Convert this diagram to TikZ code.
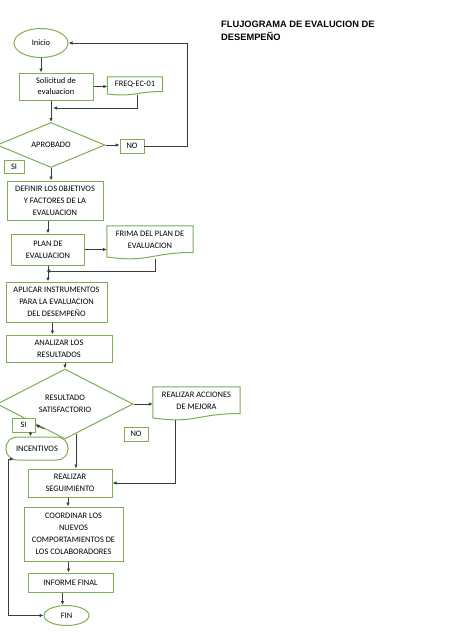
\documentclass[tikz,border=0pt]{standalone}
\usepackage{fontspec}
\setmainfont{Carlito}
\newfontfamily\titlefont{Liberation Sans}
\usetikzlibrary{shapes.geometric,arrows.meta,calc}
\definecolor{boxgreen}{RGB}{125,175,80}
\definecolor{lineg}{RGB}{60,60,60}
\newcommand{\docpath}[1]{%
  \draw[boxline] (#1.north west) -- (#1.north east)
   -- ($(#1.north east)!0.8!(#1.south east)$)
   .. controls ($(#1.north)!0.8!(#1.south)$) and ($(#1.north)!1.11!(#1.south)$)
   .. ($(#1.north west)!0.934!(#1.south west)$) -- cycle;}
\begin{document}
\begin{tikzpicture}[x=1pt,y=-1pt,
  boxline/.style={draw=boxgreen,line width=1pt,fill=white},
  txt/.style={font=\fontsize{8.4}{12}\selectfont,align=center,inner sep=0pt},
  box/.style={rectangle,boxline,txt},
  ell/.style={ellipse,boxline,txt},
  dia/.style={diamond,boxline,txt},
  doc/.style={rectangle,draw=none,txt},
  tag/.style={rectangle,draw=boxgreen,line width=0.8pt,fill=white,txt,minimum width=24pt,minimum height=14pt},
  arr/.style={draw=lineg,line width=0.8pt,-{Latex[length=4pt,width=3.5pt]}}]
\useasboundingbox[fill=white] (0,0) rectangle (474,632);

% title
\node[anchor=north west,align=left,inner sep=0pt,font=\titlefont\bfseries\fontsize{9.3}{12.5}\selectfont] (title) at (221,21) {FLUJOGRAMA DE EVALUCION DE\\DESEMPEÑO};

% nodes
\node[ell,minimum width=54pt,minimum height=29pt] (inicio) at (41,43) {Inicio};
\node[box,minimum width=74pt,minimum height=27pt,font=\fontsize{8.4}{11}\selectfont] (sol) at (56,86.5) {Solicitud de\\evaluacion};
\node[doc,minimum width=55pt,minimum height=18pt] (freq) at (135,86) {};
\docpath{freq}
\node[txt] (freqt) at (135,84) {FREQ-EC-01};
\node[dia,minimum width=108pt,minimum height=45pt] (apro) at (51,145) {APROBADO};
\node[tag] (no1) at (132,146) {NO};
\node[tag,minimum width=20pt,minimum height=13pt] (si1) at (14,167) {SI};
\node[box,minimum width=96pt,minimum height=39pt] (def) at (55,200.5) {DEFINIR LOS 0BJETIVOS\\Y FACTORES DE LA\\EVALUACION};
\node[box,minimum width=73pt,minimum height=31pt] (plan) at (48,249.5) {PLAN DE\\EVALUACION};
\node[doc,minimum width=86pt,minimum height=33pt] (frima) at (150,242.5) {};
\docpath{frima}
\node[txt] (frimat) at (150,240) {FRIMA DEL PLAN DE\\EVALUACION};
\node[box,minimum width=101pt,minimum height=40pt] (apl) at (56.5,302) {APLICAR INSTRUMENTOS\\PARA LA EVALUACION\\DEL DESEMPEÑO};
\node[box,minimum width=106pt,minimum height=27pt] (ana) at (59,348.5) {ANALIZAR LOS\\RESULTADOS};
\node[dia,minimum width=136pt,minimum height=54pt] (res) at (65,404) {RESULTADO\\SATISFACTORIO};
\node[doc,minimum width=87pt,minimum height=33pt] (acc) at (196.5,403.5) {};
\docpath{acc}
\node[txt] (acct) at (196.5,401) {REALIZAR ACCIONES\\DE MEJORA};
\node[tag] (no2) at (136,434) {NO};
\node[tag,minimum width=23pt] (si2) at (23.5,425) {SI};
\node[rectangle,rounded corners=11pt,boxline,txt,minimum width=62pt,minimum height=23pt] (inc) at (37,448.5) {INCENTIVOS};
\node[box,minimum width=84pt,minimum height=28pt] (seg) at (70,483) {REALIZAR\\SEGUIMIENTO};
\node[box,minimum width=99pt,minimum height=54pt] (coo) at (73.5,534) {COORDINAR LOS\\NUEVOS\\COMPORTAMIENTOS DE\\LOS COLABORADORES};
\node[box,minimum width=85pt,minimum height=19pt] (inf) at (70.5,582.5) {INFORME FINAL};
\node[ell,minimum width=45pt,minimum height=20pt] (fin) at (66.5,615.5) {FIN};

% coordinates
\coordinate (j1) at (53,108);
\coordinate (r1) at (187,43);
\coordinate (j2) at (46,271);
\coordinate (d1) at ($(res.south)!0.16!(res.east)$);
\coordinate (d2) at ($(res.west)!0.7!(res.south)$);
\coordinate (l1) at (8,459);
\coordinate (incin) at (14,459);

% connectors
\draw[arr] (inicio.south) -- (inicio.south |- sol.north);
\draw[arr] (sol.east) -- (freq.west |- sol.east);
\draw[arr] ([xshift=2pt]freq.south) |- (j1);
\draw[arr] (apro.north |- sol.south) -- (apro.north);
\draw[arr] (apro.east) -- (no1.west |- apro.east);
\draw[arr] (no1.east) -| (r1) -- (inicio.east);
\draw[arr] (apro.south) -- (apro.south |- def.north);
\draw[arr] (plan.north |- def.south) -- (plan.north);
\draw[arr] (plan.east) -- (frima.west |- plan.east);
\draw[arr] ([xshift=5pt]frima.south) |- (j2);
\draw[arr] (plan.south) -- (plan.south |- apl.north);
\draw[arr] ([xshift=-4pt]apl.south) -- ([xshift=-4pt]apl.south |- ana.north);
\draw[arr] (res.north |- ana.south) -- (res.north);
\draw[arr] (res.east) -- (acc.west |- res.east);
\draw[arr] ([xshift=-21pt]acc.south) |- (seg.east);
\draw[arr] (d2) -- (si2.east);
\draw[arr] ([xshift=7pt]si2.south) -- ([xshift=7pt]si2.south |- inc.north);
\draw[arr] (d1) -- (d1 |- seg.north);
\draw[arr] ([xshift=-2pt]seg.south) -- ([xshift=-2pt]seg.south |- coo.north);
\draw[arr] ([xshift=-2pt]inf.north |- coo.south) -- ([xshift=-2pt]inf.north);
\draw[arr] ([xshift=-4pt]fin.north |- inf.south) -- ([xshift=-4pt]fin.north);
\draw[arr] (l1) |- (fin.west);
\draw[arr] (l1) -- (incin);
\end{tikzpicture}
\end{document}
